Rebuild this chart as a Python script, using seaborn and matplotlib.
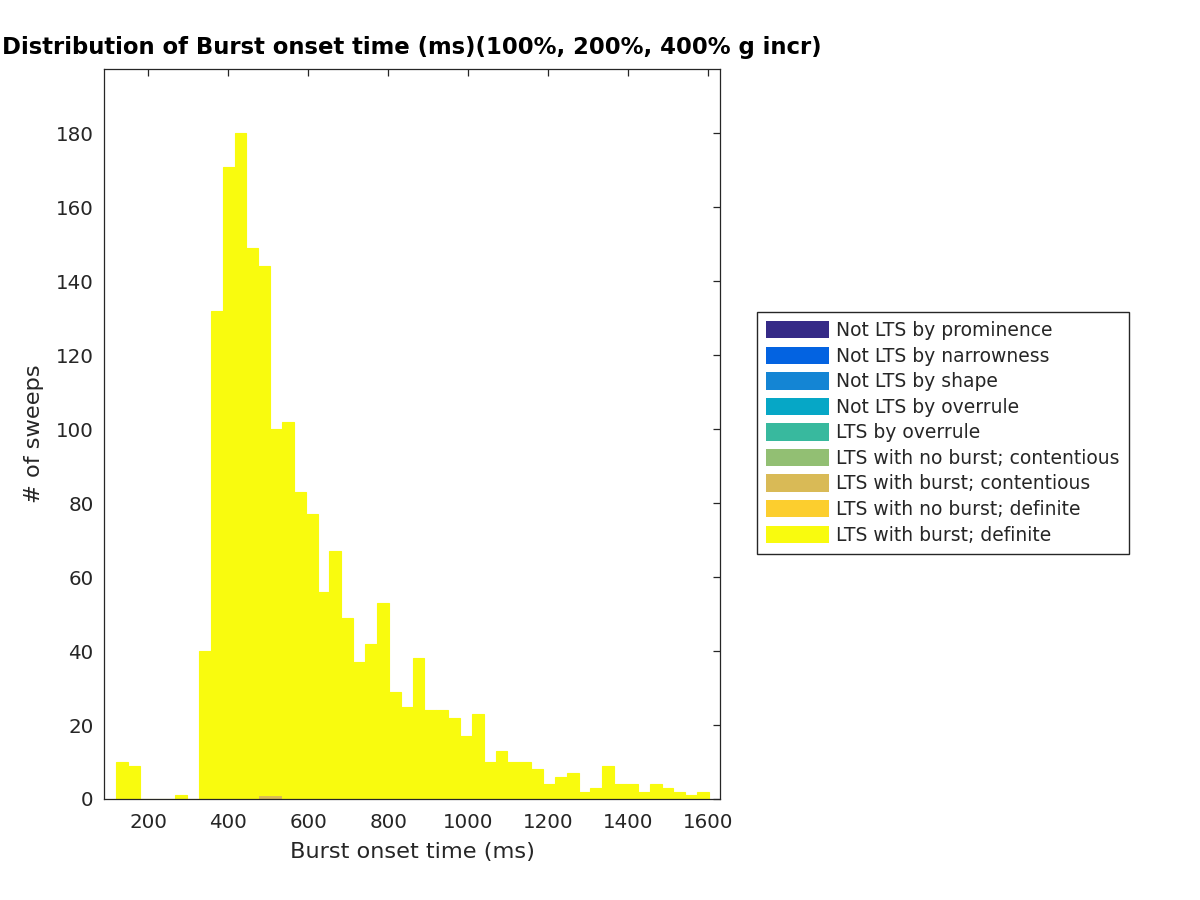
import numpy as np
import pandas as pd
import seaborn as sns
import matplotlib.pyplot as plt
from matplotlib.patches import Patch
from matplotlib.colors import to_rgba

# histogram bins (ms)
bin_lo = 119.25
bin_hi = 1601.75
n_bins = 50

# counts per bin, "LTS with burst; definite"
definite_counts = [10, 9, 0, 0, 0, 1, 0, 40, 132, 171,
                   180, 149, 143, 99, 102, 83, 77, 56, 67, 49,
                   37, 42, 53, 29, 25, 38, 24, 24, 22, 17,
                   23, 10, 13, 10, 10, 8, 4, 6, 7, 2,
                   3, 9, 4, 4, 2, 4, 3, 2, 1, 2]
# counts per bin, "LTS with burst; contentious"
contentious_counts = [0] * 12 + [1, 1] + [0] * 36

categories = ["Not LTS by prominence", "Not LTS by narrowness", "Not LTS by shape",
              "Not LTS by overrule", "LTS by overrule", "LTS with no burst; contentious",
              "LTS with burst; contentious", "LTS with no burst; definite",
              "LTS with burst; definite"]
cat_colors = ["#352A87", "#0363E1", "#1485D4", "#06A7C6", "#38B99E",
              "#92BF73", "#D9BA56", "#FCCE2E", "#F9FB0E"]

edges = np.linspace(bin_lo, bin_hi, n_bins + 1)
centers = (edges[:-1] + edges[1:]) / 2

df = pd.concat([
    pd.DataFrame({"onset": centers, "count": definite_counts,
                  "category": "LTS with burst; definite"}),
    pd.DataFrame({"onset": centers, "count": contentious_counts,
                  "category": "LTS with burst; contentious"}),
])

sns.set_style("white")
plt.rcParams["font.family"] = ["DejaVu Sans"]
tc = "#262626"

fig = plt.figure(figsize=(12, 9), dpi=100)
ax = fig.add_axes([104 / 1200, 1 - 799 / 900, 616 / 1200, 730 / 900])

pal = {c: col for c, col in zip(categories, cat_colors)}
sns.histplot(data=df, x="onset", weights="count", hue="category",
             hue_order=["LTS with burst; definite", "LTS with burst; contentious"],
             multiple="stack", bins=n_bins, binrange=(bin_lo, bin_hi),
             palette=pal, alpha=1, linewidth=0, legend=False, ax=ax)

# thin baseline for empty yellow bins, hide empty contentious bins
yellow = to_rgba(cat_colors[-1])
for p in ax.patches:
    if np.allclose(p.get_facecolor(), yellow):
        p.set_edgecolor(yellow)
        p.set_linewidth(0.8)
    elif p.get_height() == 0:
        p.set_visible(False)

ax.set_xlim(89.25, 1629.25)
ax.set_ylim(0, 197.4)
ax.set_xticks(range(200, 1601, 200))
ax.set_yticks(range(0, 181, 20))
ax.tick_params(direction="in", top=True, right=True, length=5, width=0.9,
               colors=tc, labelsize=14.3)
ax.tick_params(axis="x", pad=10)
ax.tick_params(axis="y", pad=7.5)
for s in ax.spines.values():
    s.set_color(tc)
    s.set_linewidth(0.9)
    s.set_zorder(5)

ax.set_xlabel("Burst onset time (ms)", fontsize=16.2, color=tc, labelpad=7)
ax.set_ylabel("# of sweeps", fontsize=16.2, color=tc, labelpad=8)
ax.set_title("Distribution of Burst onset time (ms)(100%, 200%, 400% g incr)",
             fontsize=16.4, fontweight="bold", color="black", pad=11)

handles = [Patch(facecolor=c, edgecolor="none") for c in cat_colors]
fig.legend(handles, categories, loc="upper left",
           bbox_to_anchor=(757 / 1200, 1 - 312 / 900), borderaxespad=0,
           fontsize=13.5, frameon=True, fancybox=False, edgecolor=tc,
           handlelength=3.36, handleheight=1.05, handletextpad=0.4,
           labelspacing=0.345, borderpad=0.48, framealpha=1)

fig.savefig("out.png", dpi=100)
